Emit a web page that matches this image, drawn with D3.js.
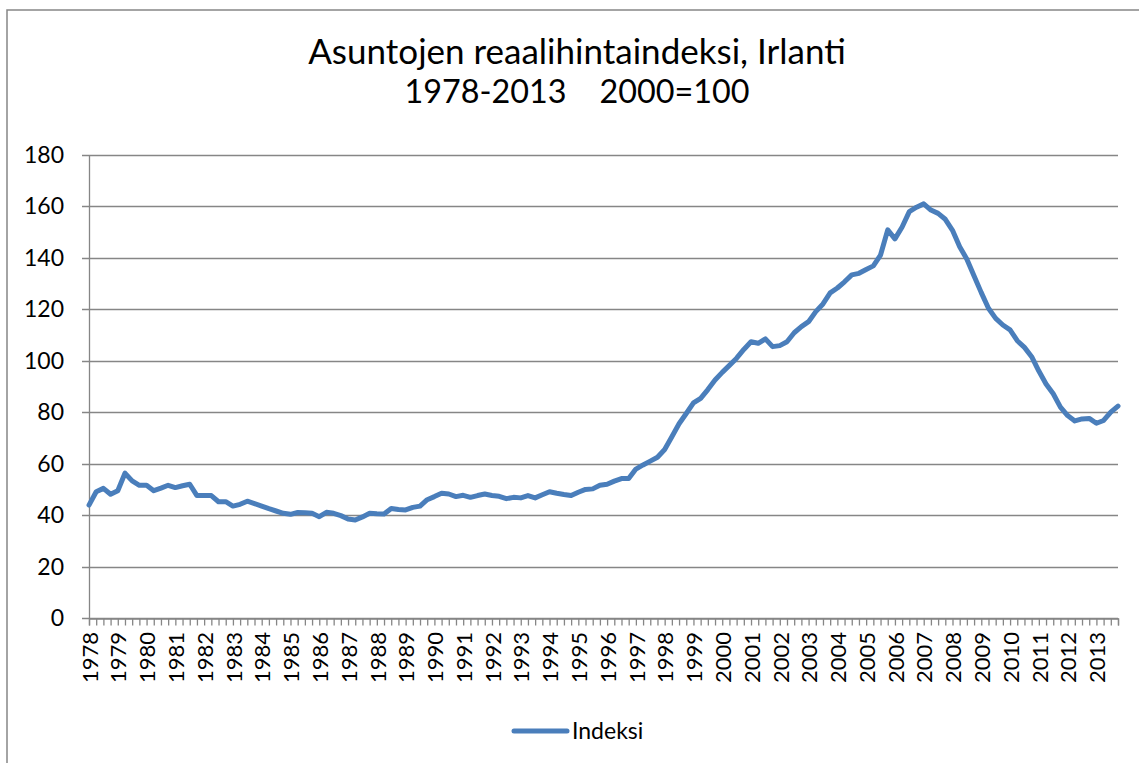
<!DOCTYPE html>
<html>
<head>
<meta charset="utf-8">
<script src="https://cdn.jsdelivr.net/npm/d3@7"></script>
<style>
  html, body { margin: 0; padding: 0; background: #fff; }
  svg { display: block; }
  text { font-family: Lato, "Open Sans", "Liberation Sans", sans-serif; fill: #000; }
</style>
</head>
<body>
<svg id="chart" width="1139" height="763"></svg>
<script>
// ---- data ----
const titleLines = ["Asuntojen reaalihintaindeksi, Irlanti", "1978-2013    2000=100"];
const yearLabels = ["1978","1979","1980","1981","1982","1983","1984","1985","1986","1987","1988","1989",
  "1990","1991","1992","1993","1994","1995","1996","1997","1998","1999","2000","2001",
  "2002","2003","2004","2005","2006","2007","2008","2009","2010","2011","2012","2013"];
const quarterLabels = ["Q1","Q2","Q3","Q4"];
const yTicks = [0, 20, 40, 60, 80, 100, 120, 140, 160, 180];
const seriesName = "Indeksi";
const values = [
  43.9, 49.1, 50.4, 48.1,   // 1978
  49.5, 56.3, 53.3, 51.6,   // 1979
  51.6, 49.5, 50.5, 51.6,   // 1980
  50.7, 51.4, 52.0, 47.6,   // 1981
  47.6, 47.6, 45.2, 45.2,   // 1982
  43.5, 44.2, 45.4, 44.5,   // 1983
  43.5, 42.5, 41.6, 40.7,   // 1984
  40.3, 41.0, 40.9, 40.7,   // 1985
  39.4, 41.1, 40.7, 39.8,   // 1986
  38.5, 38.1, 39.3, 40.7,   // 1987
  40.5, 40.4, 42.6, 42.2,   // 1988
  42.0, 43.0, 43.5, 46.0,   // 1989
  47.2, 48.5, 48.2, 47.2,   // 1990
  47.7, 46.9, 47.6, 48.2,   // 1991
  47.6, 47.3, 46.4, 46.9,   // 1992
  46.7, 47.6, 46.7, 47.9,   // 1993
  49.1, 48.5, 48.0, 47.6,   // 1994
  48.9, 50.0, 50.2, 51.6,   // 1995
  52.0, 53.2, 54.2, 54.2,   // 1996
  57.9, 59.5, 61.0, 62.5,   // 1997
  65.5, 70.5, 75.5, 79.5,   // 1998
  83.6, 85.4, 88.8, 92.5,   // 1999
  95.5, 98.2, 101.0, 104.4, // 2000
  107.4, 106.8, 108.5, 105.5, // 2001
  105.9, 107.4, 110.9, 113.3, // 2002
  115.2, 119.1, 122.1, 126.4, // 2003
  128.3, 130.7, 133.4, 134.0, // 2004
  135.5, 136.9, 141.1, 150.9, // 2005
  147.4, 152.0, 158.0, 159.7, // 2006
  161.0, 158.6, 157.3, 155.0, // 2007
  150.7, 144.3, 139.5, 133.0, // 2008
  126.5, 120.4, 116.5, 113.9, // 2009
  112.0, 107.8, 105.2, 101.6, // 2010
  96.0, 91.0, 87.2, 82.0,     // 2011
  78.7, 76.6, 77.4, 77.6,     // 2012
  75.7, 76.8, 80.0, 82.4      // 2013
];

// ---- build ----
const categories = [];
yearLabels.forEach(y => quarterLabels.forEach(q => categories.push(y + " " + q)));
const data = categories.map((c, i) => ({ c, v: values[i] }));

const svg = d3.select("#chart");
const W = 1139, H = 763;
const plot = { left: 89, right: 1118, top: 155, bottom: 618 };
const gridColor = "#868686";
const lineColor = "#4A7EBB";

// outer frame
svg.append("rect").attr("x", 7).attr("y", 10).attr("width", W + 20).attr("height", H + 20)
  .attr("fill", "#fff").attr("stroke", gridColor).attr("stroke-width", 1.5);

const x = d3.scalePoint().domain(categories).range([plot.left, plot.right]);
const y = d3.scaleLinear().domain([0, 180]).range([plot.bottom, plot.top]);

// title
const titleG = svg.append("g");
const t1 = titleG.append("text").attr("x", 577).attr("y", 64)
  .attr("text-anchor", "middle").style("font-size", "30px").text(titleLines[0]);
const fs = 30 * 538 / t1.node().getComputedTextLength();
t1.style("font-size", fs + "px");
const t2 = titleG.append("text").attr("x", 577).attr("y", 103)
  .attr("text-anchor", "middle").style("font-size", fs + "px").style("white-space", "pre")
  .attr("xml:space", "preserve").text(titleLines[1]);
let fs2 = fs;
if (t2.node().getComputedTextLength() > 345) {
  fs2 = fs * 345 / t2.node().getComputedTextLength();
  t2.style("font-size", fs2 + "px");
}

// gridlines
svg.append("g").selectAll("line").data(yTicks).join("line")
  .attr("x1", plot.left - 7).attr("x2", plot.right)
  .attr("y1", d => Math.round(y(d)) + 0.5).attr("y2", d => Math.round(y(d)) + 0.5)
  .attr("stroke", gridColor).attr("stroke-width", 1.3);

// y axis line
svg.append("line").attr("x1", plot.left + 0.5).attr("x2", plot.left + 0.5)
  .attr("y1", plot.top).attr("y2", plot.bottom + 0.5)
  .attr("stroke", gridColor).attr("stroke-width", 1.3);

// y labels
svg.append("g").selectAll("text").data(yTicks).join("text")
  .attr("x", 64).attr("y", d => y(d)).attr("dy", "0.35em")
  .attr("text-anchor", "end").style("font-size", "23px").text(d => d);

// x axis with quarter ticks
const xAxis = d3.axisBottom(x).tickSize(7).tickFormat("");
const xg = svg.append("g").attr("transform", `translate(0,${Math.round(plot.bottom) + 0.5})`).call(xAxis);
xg.select(".domain").attr("stroke", gridColor).attr("stroke-width", 1.3);
xg.selectAll(".tick line").attr("stroke", gridColor).attr("stroke-width", 1.3);

// year labels
svg.append("g").selectAll("text").data(yearLabels).join("text")
  .attr("transform", d => `translate(${x(d + " Q1") + 1},632) rotate(-90)`)
  .attr("text-anchor", "end").attr("dy", "0.35em").style("font-size", "22px").text(d => d);

// line
const line = d3.line().x(d => x(d.c)).y(d => y(d.v)).curve(d3.curveLinear);
svg.append("path").datum(data).attr("d", line).attr("fill", "none")
  .attr("stroke", lineColor).attr("stroke-width", 5)
  .attr("stroke-linejoin", "round").attr("stroke-linecap", "round");

// legend
const lg = svg.append("g");
lg.append("line").attr("x1", 514).attr("x2", 567).attr("y1", 731).attr("y2", 731)
  .attr("stroke", lineColor).attr("stroke-width", 5).attr("stroke-linecap", "round");
lg.append("text").attr("x", 572).attr("y", 731).attr("dy", "0.35em")
  .style("font-size", "23px").text(seriesName);
</script>
</body>
</html>
